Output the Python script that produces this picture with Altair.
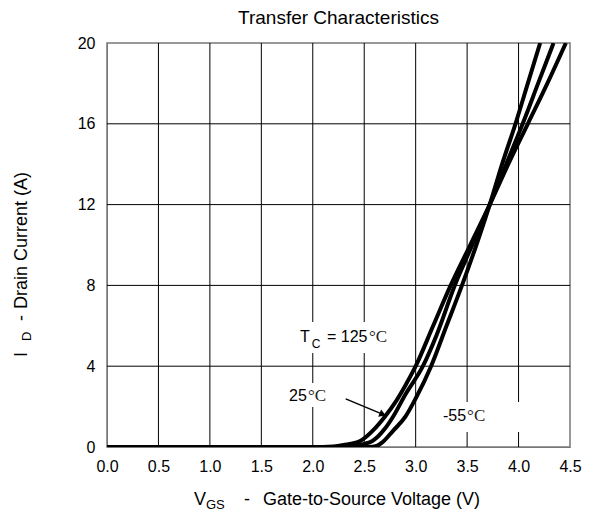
import altair as alt
import pandas as pd

# ---- data ----
v_125 = [0.0, 2.0, 2.2, 2.3, 2.46, 2.6, 2.7, 2.8, 2.9, 3.0, 3.17, 3.34, 3.53, 3.72, 3.9, 4.09, 4.28, 4.46]
i_125 = [0.0, 0.0, 0.03, 0.1, 0.3, 0.9, 1.5, 2.2, 3.05, 4.0, 6.0, 8.0, 10.0, 12.0, 14.0, 16.0, 18.0, 20.0]

v_25 = [0.0, 2.25, 2.4, 2.5, 2.58, 2.7, 2.78, 2.9, 3.07, 3.2, 3.38, 3.55, 3.72, 3.88, 4.04, 4.19, 4.34]
i_25 = [0.0, 0.0, 0.05, 0.15, 0.3, 0.9, 1.5, 2.6, 4.0, 5.5, 8.0, 10.0, 12.0, 14.0, 16.0, 18.0, 20.0]

v_m55 = [0.0, 2.55, 2.62, 2.68, 2.78, 2.9, 3.0, 3.15, 3.3, 3.45, 3.59, 3.72, 3.84, 3.97, 4.09, 4.21]
i_m55 = [0.0, 0.0, 0.05, 0.25, 0.8, 1.5, 2.4, 4.0, 6.0, 8.0, 10.0, 12.0, 14.0, 16.0, 18.0, 20.0]

x_ticks = [0.0, 0.5, 1.0, 1.5, 2.0, 2.5, 3.0, 3.5, 4.0, 4.5]
y_ticks = [0, 4, 8, 12, 16, 20]
x_grid = [0.5, 1.0, 1.5, 2.0, 2.5, 3.0, 3.5, 4.0]
y_grid = [4, 8, 12, 16]

# annotation labels (data coordinates), sans-serif parts
lab_text = ["T", "C", "= 125", "25", "-55"]
lab_v = [1.876, 1.99, 2.138, 1.769, 3.265]
lab_i = [5.45, 5.12, 5.45, 2.52, 1.53]
lab_size = [16, 12, 16, 16, 16]
# degree-Celsius parts (serif)
deg_text = ["°C", "°C", "°C"]
deg_v = [2.546, 1.953, 3.50]
deg_i = [5.45, 2.52, 1.53]

# white boxes behind labels
box_v1 = [1.85, 1.78, 3.15]
box_v2 = [2.80, 2.17, 4.15]
box_i1 = [4.65, 1.98, 0.74]
box_i2 = [6.19, 3.17, 2.23]

# arrow
arrow_v = [2.32]
arrow_i = [2.38]
arrow_v2 = [2.67]
arrow_i2 = [1.64]

FONT = "Liberation Sans"

rows = []
for name, vs, is_ in [("125", v_125, i_125), ("25", v_25, i_25), ("-55", v_m55, i_m55)]:
    for k, (v, i) in enumerate(zip(vs, is_)):
        rows.append({"curve": name, "v": v, "i": i, "k": k})
curves = pd.DataFrame(rows)

xs = alt.Scale(domain=[0, 4.5], nice=False, zero=False)
ys = alt.Scale(domain=[0, 20], nice=False)

base_x_axis = alt.Axis(values=x_ticks, format=".1f", labelFontSize=16, labelFont=FONT,
                       labelColor="black", ticks=False, grid=False, domainColor="#777",
                       labelPadding=11, labelFlush=False, labelOverlap=False, title=None)
base_y_axis = alt.Axis(values=y_ticks, labelFontSize=16, labelFont=FONT, labelColor="black",
                       ticks=False, grid=False, domainColor="#777", labelPadding=12,
                       labelFlush=False, labelOverlap=False, title=None)

vgrid = alt.Chart(pd.DataFrame({"v": x_grid})).mark_rule(color="black", strokeWidth=1).encode(
    x=alt.X("v:Q", scale=xs, axis=base_x_axis))
hgrid = alt.Chart(pd.DataFrame({"i": y_grid})).mark_rule(color="black", strokeWidth=1).encode(
    y=alt.Y("i:Q", scale=ys, axis=base_y_axis))

boxes = alt.Chart(pd.DataFrame({"v1": box_v1, "v2": box_v2, "i1": box_i1, "i2": box_i2})).mark_rect(
    color="white").encode(
    x=alt.X("v1:Q", scale=xs), x2="v2:Q", y=alt.Y("i1:Q", scale=ys), y2="i2:Q")

lines = alt.Chart(curves).mark_line(color="black", strokeWidth=4, interpolate="monotone",
                                    strokeJoin="round", clip=True).encode(
    x=alt.X("v:Q", scale=xs), y=alt.Y("i:Q", scale=ys), detail="curve:N", order="k:Q")

labels = alt.Chart(pd.DataFrame({"v": lab_v, "i": lab_i, "t": lab_text, "s": lab_size})).mark_text(
    align="left", baseline="middle", font=FONT, color="black").encode(
    x=alt.X("v:Q", scale=xs), y=alt.Y("i:Q", scale=ys), text="t:N", size=alt.Size("s:Q", scale=None))

degs = alt.Chart(pd.DataFrame({"v": deg_v, "i": deg_i, "t": deg_text})).mark_text(
    align="left", baseline="middle", font="Liberation Serif", fontSize=17, color="#222").encode(
    x=alt.X("v:Q", scale=xs), y=alt.Y("i:Q", scale=ys), text="t:N")

arrow_line = alt.Chart(pd.DataFrame({"v": arrow_v, "i": arrow_i, "v2": arrow_v2, "i2": arrow_i2})).mark_rule(
    color="black", strokeWidth=1.5).encode(
    x=alt.X("v:Q", scale=xs), y=alt.Y("i:Q", scale=ys), x2="v2:Q", y2="i2:Q")
arrow_head = alt.Chart(pd.DataFrame({"v": arrow_v2, "i": arrow_i2})).mark_point(
    shape="triangle", filled=True, color="black", size=60, angle=112, opacity=1).encode(
    x=alt.X("v:Q", scale=xs), y=alt.Y("i:Q", scale=ys))

# titles as text marks (pixel positions relative to plot area)
def ptext(txt, x, y, size, angle=0, align="left"):
    kw = dict(text=txt, align=align, baseline="middle", font=FONT, fontSize=size, color="black")
    if angle:
        kw["angle"] = angle
    return alt.Chart(pd.DataFrame({"a": [0]})).mark_text(**kw).encode(
        x=alt.value(x), y=alt.value(y))

title = ptext("Transfer Characteristics", 231.5, -25, 19, align="center")
xt1 = ptext("V", 87, 457, 18)
xt2 = ptext("GS", 99, 462, 13)
xt3 = ptext("-", 137, 457, 18)
xt4 = ptext("Gate-to-Source Voltage (V)", 156, 457, 18)
yt1 = ptext("I", -85, 314, 18, angle=270)
yt2 = ptext("D", -80, 298, 13, angle=270)
yt3 = ptext("-", -85, 278, 18, angle=270)
yt4 = ptext("Drain Current (A)", -85, 266, 18, angle=270)

chart = alt.layer(vgrid, hgrid, boxes, lines, arrow_line, arrow_head, labels, degs,
                  title, xt1, xt2, xt3, xt4, yt1, yt2, yt3, yt4).properties(
    width=463, height=404,
    autosize=alt.AutoSizeParams(type="none"),
    padding={"left": 99, "top": 35, "right": 14, "bottom": 70},
).configure_view(stroke="#777", strokeWidth=1.5)

chart.save("out.html", embed_options={"renderer": "svg", "actions": False})
